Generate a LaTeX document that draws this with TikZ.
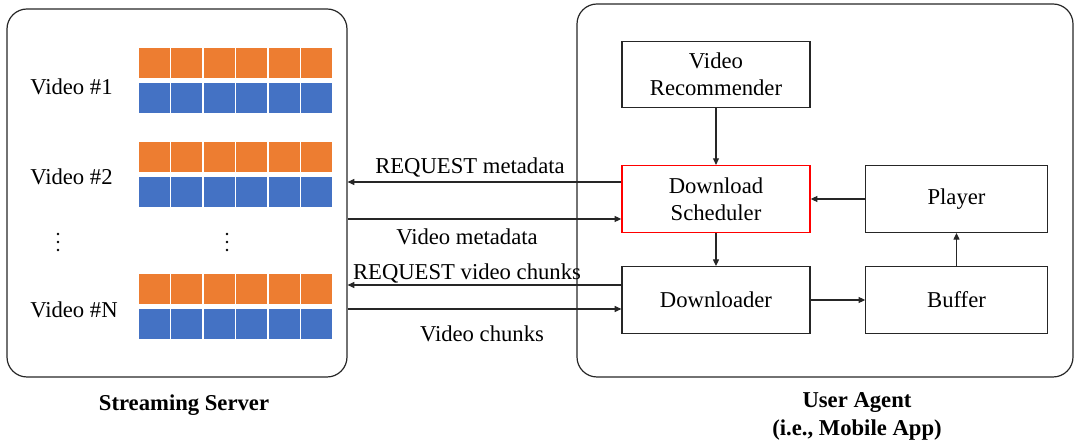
\documentclass[tikz,border=0pt]{standalone}
\usepackage{fontspec}
\setmainfont{Liberation Serif}
\usetikzlibrary{arrows.meta}
\definecolor{corange}{HTML}{ED7D31}
\definecolor{cblue}{HTML}{4472C4}
\definecolor{cred}{HTML}{FF0000}
\begin{document}
\begin{tikzpicture}[x=0.75pt,y=-0.75pt,
  txt/.style={font=\fontsize{17}{20.4}\selectfont, inner sep=0pt},
  box/.style={draw=black!85, line width=0.9pt, minimum width=141pt, minimum height=50pt, align=center, font=\fontsize{17}{20.4}\selectfont, inner sep=0pt},
  pbox/.style={box, minimum width=136pt},
  frame/.style={draw=black!85, line width=0.9pt, rounded corners=15pt, inner sep=0pt},
  arr/.style={draw=black!85, line width=0.8pt, -{Triangle[length=5pt,width=4.5pt]}},
  ocell/.style={fill=corange, draw=white, line width=0.8pt},
  bcell/.style={fill=cblue, draw=white, line width=0.8pt},
  dot/.style={fill=black, circle, inner sep=0pt, minimum size=2.2pt},
  lbl/.style={font=\fontsize{17}{20.4}\selectfont\bfseries, align=center, inner sep=0pt}]
\useasboundingbox (0,0) rectangle (1076,448);

% frames
\node[frame, minimum width=255pt, minimum height=276pt] (server) at (177,193) {};
\node[frame, minimum width=372pt, minimum height=279.75pt] (agent) at (825,190.5) {};

% video cells
\foreach \y in {47,141,273}{
  \foreach \i in {0,...,5}{
    \path[ocell] (138+\i*32.5,\y) rectangle (138+\i*32.5+32.5,\y+31.5);
    \path[bcell] (138+\i*32.5,\y+35) rectangle (138+\i*32.5+32.5,\y+66.5);
  }
}
\node[txt, anchor=west] (v1) at (30,87) {Video \#1};
\node[txt, anchor=west] (v2) at (30,177) {Video \#2};
\node[txt, anchor=west] (vn) at (30,310) {Video \#N};
\foreach \x in {58,227}{
  \foreach \yy in {234,242,250}{
    \node[dot] at (\x,\yy) {};
  }
}

% agent boxes
\node[box] (rec) at (716,74.5) {Video\\Recommender};
\node[box, draw=cred, line width=1.1pt] (sched) at (716,199) {Download\\Scheduler};
\node[box] (down) at (716,300) {Downloader};
\node[pbox] (player) at (956.5,199) {Player};
\node[pbox] (buffer) at (956.5,300) {Buffer};

\draw[arr] (rec) -- (sched);
\draw[arr] (sched) -- (down);
\draw[arr] (player) -- (sched);
\draw[arr] (buffer) -- (player);
\draw[arr] (down) -- (buffer);

% messages
\coordinate (m1) at ([yshift=12.75pt]sched.west);
\coordinate (m2) at ([yshift=-15pt]sched.west);
\coordinate (m3) at ([yshift=11.25pt]down.west);
\coordinate (m4) at ([yshift=-6.75pt]down.west);
\draw[arr] (m1) -- (m1 -| server.east);
\draw[arr] (m2 -| server.east) -- (m2);
\draw[arr] (m3) -- (m3 -| server.east);
\draw[arr] (m4 -| server.east) -- (m4);

\node[txt] (t1) at (470,167) {REQUEST metadata};
\node[txt] (t2) at (467,237) {Video metadata};
\node[txt] (t3) at (467,273) {REQUEST video chunks};
\node[txt] (t4) at (482,334) {Video chunks};

\node[lbl] (sl) at (184,405) {Streaming Server};
\node[lbl] (ul) at (857,416.5) {User Agent\\(i.e., Mobile App)};
\end{tikzpicture}
\end{document}
